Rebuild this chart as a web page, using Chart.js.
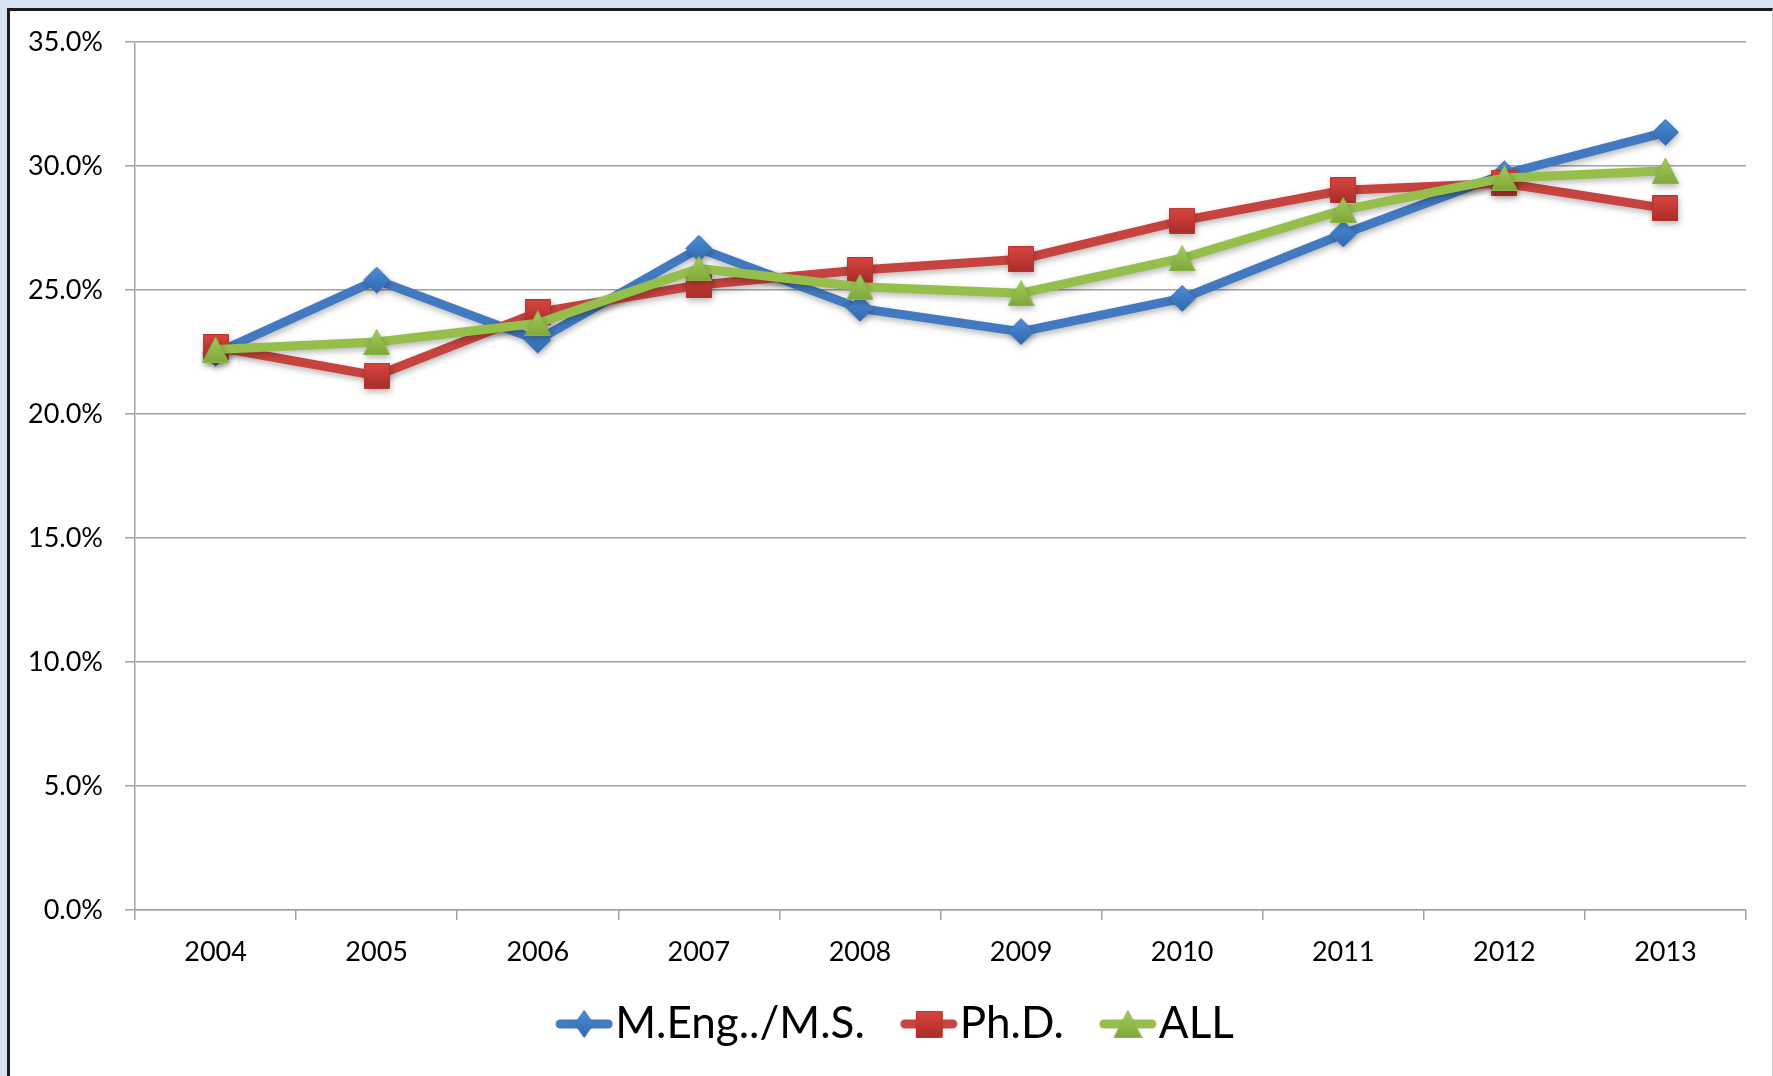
<!DOCTYPE html>
<html>
<head>
<meta charset="utf-8">
<script src="https://cdn.jsdelivr.net/npm/chart.js@4.4.1/dist/chart.umd.min.js"></script>
<style>
  html, body { margin: 0; padding: 0; width: 1773px; height: 1076px; overflow: hidden; background: #d7e3ef; }
  #panel { position: absolute; left: 7px; top: 8px; width: 1762px; height: 1080px; background: #fff;
           border-left: 3px solid #1c1c1c; border-top: 3px solid #1c1c1c; border-right: 1px solid #d2d2d2; }
  #chart { position: absolute; left: 0; top: 0; }
</style>
</head>
<body>
<div id="panel"></div>
<canvas id="chart" width="1773" height="1076"></canvas>
<script>
// share of graduates per year (percent)
const years  = ['2004', '2005', '2006', '2007', '2008', '2009', '2010', '2011', '2012', '2013'];
const mengMs = [22.45, 25.4, 22.98, 26.68, 24.26, 23.32, 24.66, 27.26, 29.68, 31.36];
const phd    = [22.7, 21.55, 24.1, 25.2, 25.81, 26.24, 27.8, 29.02, 29.3, 28.29];
const all    = [22.6, 22.9, 23.66, 25.87, 25.13, 24.87, 26.28, 28.23, 29.52, 29.81];
const seriesNames = ['M.Eng../M.S.', 'Ph.D.', 'ALL'];

const yMin = 0, yMax = 35, yStep = 5;

const FONT = 'Lato, "Open Sans", sans-serif';
const GRID = '#a3a3a3';

// marker bitmaps with a light top-to-bottom gradient
function marker(shape, w, h, top, bottom, edge) {
  const c = document.createElement('canvas');
  c.width = w; c.height = h;
  const g = c.getContext('2d');
  const grad = g.createLinearGradient(0, 0, 0, h);
  grad.addColorStop(0, top);
  grad.addColorStop(1, bottom);
  g.beginPath();
  if (shape === 'diamond') {
    g.moveTo(w / 2, 0.5); g.lineTo(w - 0.5, h / 2); g.lineTo(w / 2, h - 0.5); g.lineTo(0.5, h / 2);
  } else if (shape === 'square') {
    g.rect(0.5, 0.5, w - 1, h - 1);
  } else {
    g.moveTo(w / 2, 0.5); g.lineTo(w - 0.5, h - 0.5); g.lineTo(0.5, h - 0.5);
  }
  g.closePath();
  g.fillStyle = grad;
  g.fill();
  g.strokeStyle = edge;
  g.lineWidth = 1;
  g.stroke();
  return c;
}

// legend key: short thick line with the marker on top, drawn in the
// right part of the bitmap so it ends just before the label text
const KEY_W = 58, KEY_PAD = 40;
function legendKey(color, mk) {
  const c = document.createElement('canvas');
  c.width = KEY_W + KEY_PAD; c.height = Math.max(mk.height, 12);
  const g = c.getContext('2d');
  const x0 = KEY_PAD;
  g.strokeStyle = color;
  g.lineWidth = 9;
  g.lineCap = 'round';
  g.beginPath();
  g.moveTo(x0 + 5, c.height / 2);
  g.lineTo(x0 + KEY_W - 5, c.height / 2);
  g.stroke();
  g.drawImage(mk, x0 + (KEY_W - mk.width) / 2, (c.height - mk.height) / 2);
  return c;
}

const lineColors = ['#4279c0', '#c6433f', '#95be4b'];
const marks = [
  marker('diamond', 27, 27, '#4f8ed8', '#2f67ad', '#3a74bd'),
  marker('square', 26, 26, '#da4540', '#a92d29', '#b8342f'),
  marker('triangle', 27, 26, '#a6cd5c', '#7ea63a', '#8ab446')
];
const legendMarks = [
  legendKey(lineColors[0], marker('diamond', 20, 28, '#4f8ed8', '#2f67ad', '#3a74bd')),
  legendKey(lineColors[1], marker('square', 27, 27, '#da4540', '#a92d29', '#b8342f')),
  legendKey(lineColors[2], marker('triangle', 29, 28, '#a6cd5c', '#7ea63a', '#8ab446'))
];

const softShadow = {
  id: 'softShadow',
  beforeDatasetsDraw(chart) {
    const c = chart.ctx;
    c.save();
    c.shadowColor = 'rgba(0,0,0,0.28)';
    c.shadowBlur = 6;
    c.shadowOffsetX = 1;
    c.shadowOffsetY = 3;
  },
  afterDatasetsDraw(chart) {
    chart.ctx.restore();
  }
};

const values = [mengMs, phd, all];
const datasets = values.map((v, i) => ({
  label: seriesNames[i],
  data: v,
  borderColor: lineColors[i],
  backgroundColor: lineColors[i],
  borderWidth: 9,
  tension: 0,
  pointStyle: marks[i],
  pointRadius: 13,
  order: 3 - i
}));

new Chart(document.getElementById('chart'), {
  type: 'line',
  data: { labels: years, datasets },
  plugins: [softShadow],
  options: {
    responsive: false,
    animation: false,
    layout: { padding: { left: 23, top: 42, right: 27, bottom: 20 } },
    plugins: {
      tooltip: { enabled: false },
      legend: {
        position: 'bottom',
        labels: {
          usePointStyle: true,
          pointStyleWidth: KEY_W,
          padding: 15,
          color: '#000',
          font: { family: FONT, size: 44 },
          generateLabels: chart => chart.data.datasets.map((ds, i) => ({
            text: ds.label,
            pointStyle: legendMarks[i],
            fillStyle: ds.borderColor,
            strokeStyle: ds.borderColor,
            lineWidth: 0,
            hidden: false,
            datasetIndex: i
          }))
        }
      }
    },
    scales: {
      x: {
        offset: true,
        grid: { drawOnChartArea: false, offset: true, tickLength: 10, color: GRID, lineWidth: 1.5 },
        border: { color: GRID, width: 1.5 },
        ticks: { color: '#000', padding: 16, font: { family: FONT, size: 27 } },
        afterFit(scale) { scale.height = 77; }
      },
      y: {
        min: yMin,
        max: yMax,
        grid: { color: GRID, lineWidth: 1.5, tickLength: 10 },
        border: { color: GRID, width: 1.5 },
        ticks: {
          stepSize: yStep,
          color: '#000',
          padding: 22,
          font: { family: FONT, size: 27 },
          callback: v => v.toFixed(1) + '%'
        },
        afterFit(scale) { scale.width = 112; }
      }
    }
  }
});
</script>
</body>
</html>
